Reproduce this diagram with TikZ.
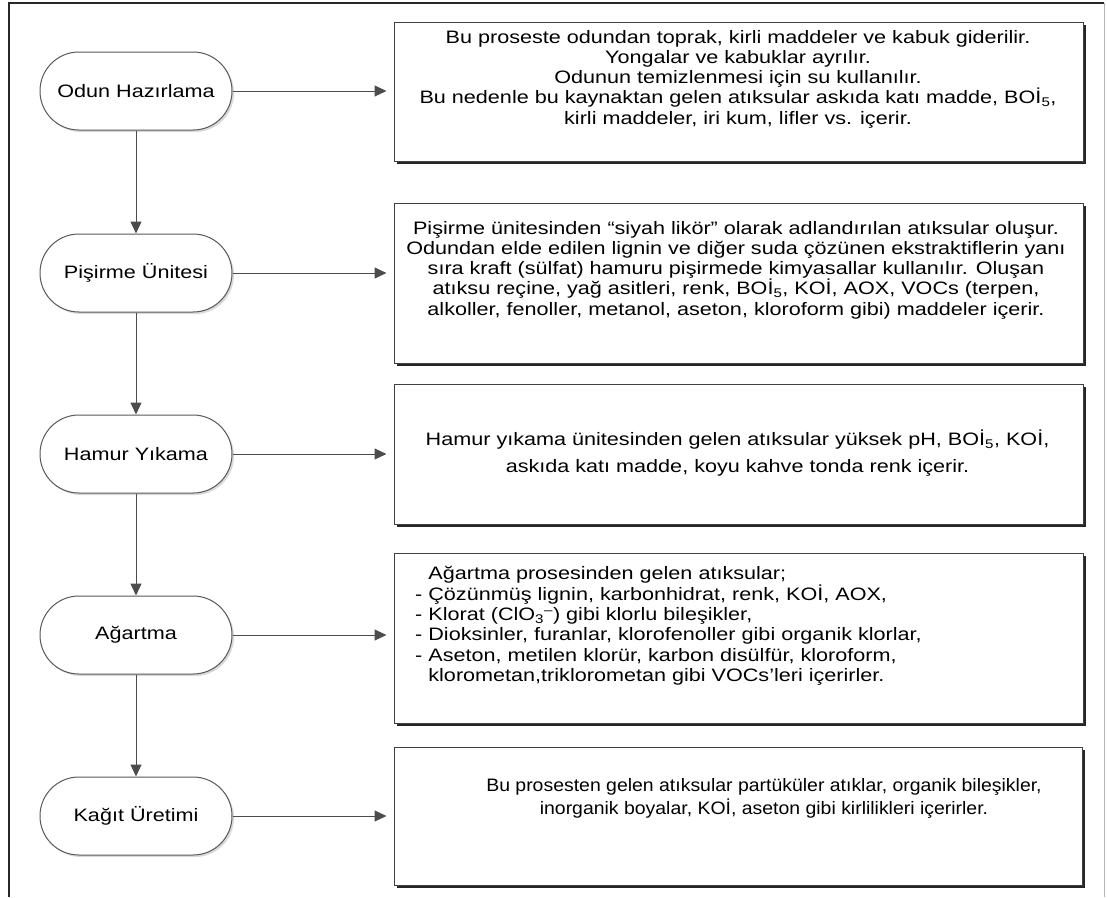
\documentclass[tikz,border=0pt]{standalone}
\usepackage{fontspec}
\setmainfont{Liberation Sans}
\newfontfamily\widefont[FakeStretch=1.2]{Liberation Sans}
\newfontfamily\narrowfont[FakeStretch=1.08]{Liberation Sans}
\usetikzlibrary{shadows,arrows.meta}
\begin{document}
\begin{tikzpicture}[x=1pt,y=-1pt,
  stage/.style={rectangle, rounded corners=38.9pt, draw=black!65, line width=1pt, fill=white,
    minimum width=192pt, minimum height=78pt, inner sep=0pt,
    font=\widefont\fontsize{18}{20}\selectfont, text=black,
    drop shadow={shadow xshift=2pt, shadow yshift=-2pt, fill=black!15, opacity=1}},
  infobox/.style={rectangle, draw=black!75, line width=1pt, fill=white, inner sep=0pt,
    minimum width=689pt,
    drop shadow={shadow xshift=2.5pt, shadow yshift=-2.5pt, fill=black!85, opacity=1}},
  flow/.style={draw=black!70, line width=1pt, -{Triangle[length=12pt,width=11pt]}},
  txt/.style={font=\widefont\fontsize{18}{20.3}\selectfont, align=center, inner sep=0pt, text=black}
]
\useasboundingbox (0,0) rectangle (1107,897);
% frame
\draw[line width=2pt, black!85] (9,897) -- (9,3) -- (1104,3);
\draw[line width=1pt, black!30] (1104,3) -- (1104,897);

% stages
\node[stage] (s1) at (136,91)  {Odun Hazırlama};
\node[stage] (s2) at (136,273) {Pişirme Ünitesi};
\node[stage] (s3) at (136,454) {Hamur Yıkama};
\node[stage] (s4) at (136,635) {Ağartma};
\node[stage] (s5) at (136,816) {Kağıt Üretimi};

% boxes
\node[infobox, minimum height=139pt] (b1) at (738.5,91.5) {};
\node[infobox, minimum height=160pt] (b2) at (738.5,283) {};
\node[infobox, minimum height=140pt] (b3) at (738.5,454) {};
\node[infobox, minimum height=170pt] (b4) at (738.5,638) {};
\node[infobox, minimum height=138pt, minimum width=688pt] (b5) at (738,816) {};

% texts
\node[txt] (t1) at (738,79) {Bu proseste odundan toprak, kirli maddeler ve kabuk giderilir.\\
Yongalar ve kabuklar ayrılır.\\
Odunun temizlenmesi için su kullanılır.\\
Bu nedenle bu kaynaktan gelen atıksular askıda katı madde, BOİ\textsubscript{5},\\
kirli maddeler, iri kum, lifler vs. içerir.};

\node[txt] (t2) at (736,270) {Pişirme ünitesinden “siyah likör” olarak adlandırılan atıksular oluşur.\\
Odundan elde edilen lignin ve diğer suda çözünen ekstraktiflerin yanı\\
sıra kraft (sülfat) hamuru pişirmede kimyasallar kullanılır. Oluşan\\
atıksu reçine, yağ asitleri, renk, BOİ\textsubscript{5}, KOİ, AOX, VOCs (terpen,\\
alkoller, fenoller, metanol, aseton, kloroform gibi) maddeler içerir.};

\node[txt, font=\widefont\fontsize{18}{27}\selectfont] (t3) at (737.5,453.5) {Hamur yıkama ünitesinden gelen atıksular yüksek pH, BOİ\textsubscript{5}, KOİ,\\
askıda katı madde, koyu kahve tonda renk içerir.};

\node[txt, align=left, anchor=west] (t4) at (415,626) {\phantom{- }Ağartma prosesinden gelen atıksular;\\
- Çözünmüş lignin, karbonhidrat, renk, KOİ, AOX,\\
- Klorat (ClO\textsubscript{3}\textsuperscript{–}) gibi klorlu bileşikler,\\
- Dioksinler, furanlar, klorofenoller gibi organik klorlar,\\
- Aseton, metilen klorür, karbon disülfür, kloroform,\\
\phantom{- }klorometan,triklorometan gibi VOCs’leri içerirler.};

\node[txt, font=\narrowfont\fontsize{18}{23}\selectfont] (t5) at (764,798.5) {Bu prosesten gelen atıksular partüküler atıklar, organik bileşikler,\\
inorganik boyalar, KOİ, aseton gibi kirlilikleri içerirler.};

% connectors
\draw[flow] (s1) -- (s2);
\draw[flow] (s2) -- (s3);
\draw[flow] (s3) -- (s4);
\draw[flow] (s4) -- (s5);
\draw[flow, shorten >=7pt] (s1.east) -- (s1.east -| b1.west);
\draw[flow, shorten >=7pt] (s2.east) -- (s2.east -| b2.west);
\draw[flow, shorten >=7pt] (s3.east) -- (s3.east -| b3.west);
\draw[flow, shorten >=7pt] (s4.east) -- (s4.east -| b4.west);
\draw[flow, shorten >=7pt] (s5.east) -- (s5.east -| b5.west);
\end{tikzpicture}
\end{document}
